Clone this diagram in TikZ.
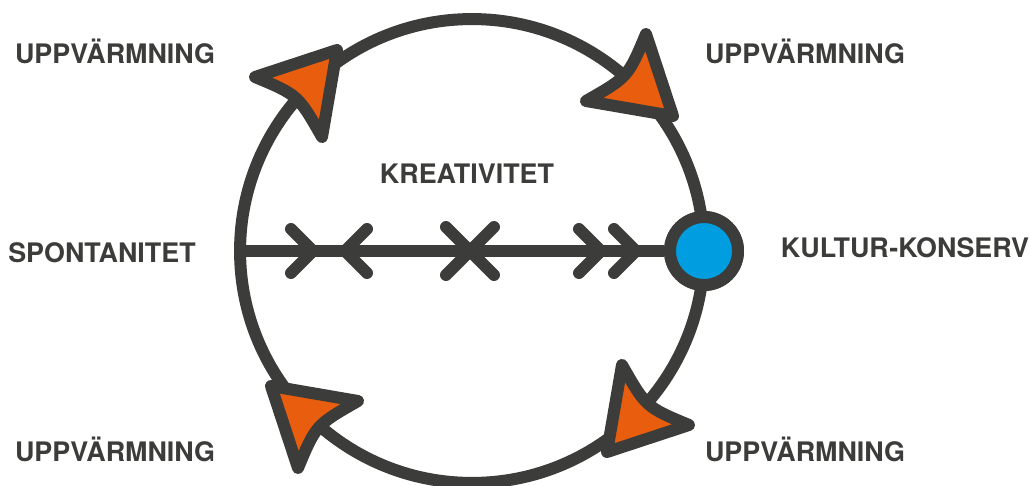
\documentclass[tikz,border=0pt]{standalone}
\usepackage{fontspec}
\setmainfont{TeX Gyre Heros}
\definecolor{ink}{HTML}{3C3C3A}
\definecolor{flame}{HTML}{E85D0E}
\definecolor{sky}{HTML}{009EE0}
\tikzset{
  ring/.style={draw=ink, line width=2.4mm},
  tick/.style={draw=ink, line width=2.4mm, line cap=round, line join=miter},
  warmhead/.style={draw=ink, fill=flame, line width=2.4mm, line join=round},
  hubnode/.style={circle, draw=ink, fill=sky, line width=2.4mm, minimum size=1.36cm, inner sep=0pt},
  lbl/.style={font=\fontsize{15.3}{18}\selectfont\bfseries, text=ink, anchor=base, inner sep=0pt}
}
\begin{document}
\begin{tikzpicture}[x=0.02cm, y=0.02cm]
  \useasboundingbox (0,0) rectangle (1029,485);
  % the wheel
  \coordinate (hub) at (472,234);
  \draw[ring] (hub) circle[radius=4.64cm];
  % axis from spontaneity to the cultural conserve
  \coordinate (spont) at (240,234);
  \node[hubnode] (konserv) at (704,234) {};
  \draw[ring] (spont) -- (konserv.west);
  % ticks on the axis: > < X >>
  \foreach \x in {313,601,636}
    \draw[tick] ({\x-22},256) -- (\x,234) -- ({\x-22},212);
  \draw[tick] (367,256) -- (345,234) -- (367,212);
  \draw[tick] (446,258) -- (494,210);
  \draw[tick] (446,210) -- (494,258);
  % warm-up arrowheads, turned a quarter each
  \foreach \a in {0,-90,-180,-270}
    \draw[warmhead, shift={(hub)}, rotate=\a]
      (-135,201) -- (-217,174) .. controls (-174,156) .. (-150,114) -- cycle;
  \node[hubnode] at (konserv) {};
  % labels
  \node[lbl] (warmtl) at (115,422) {UPPVÄRMNING};
  \node[lbl] (warmtr) at (805,422) {UPPVÄRMNING};
  \node[lbl] (warmbl) at (115,24) {UPPVÄRMNING};
  \node[lbl] (warmbr) at (805,24) {UPPVÄRMNING};
  \node[lbl] (spontlbl) at (102,223) {SPONTANITET};
  \node[lbl] (kreat) at (467,302) {KREATIVITET};
  \node[lbl] (konslbl) at (905,228) {KULTUR-KONSERV};
\end{tikzpicture}
\end{document}
